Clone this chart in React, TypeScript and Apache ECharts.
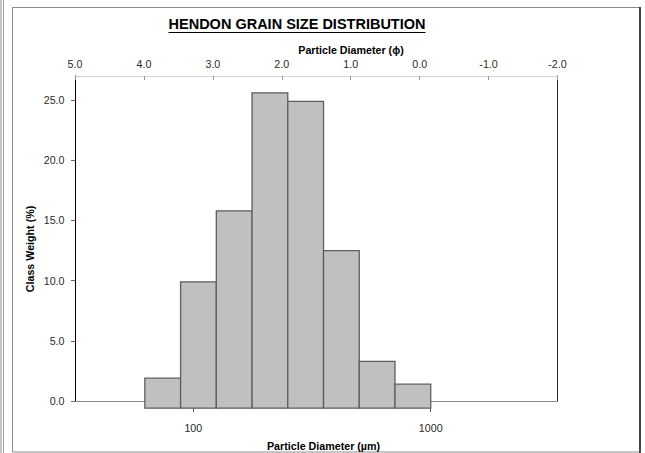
import React, { useEffect, useRef } from "react";
import * as echarts from "echarts";

// Bin edges (µm) – phi classes 4.0 … 0.0 in 0.5 steps
const BIN_EDGES_UM = [62.5, 88.4, 125, 176.8, 250, 353.6, 500, 707.1, 1000];
// Class weight (%) per bin
const CLASS_WEIGHT = [1.9, 9.9, 15.8, 25.6, 24.9, 12.5, 3.3, 1.4];
// Y tick labels
const Y_TICKS = [0, 5, 10, 15, 20, 25];
// Bottom axis labels (µm)
const UM_TICKS = [100, 1000];
// Bars' baseline sits slightly below the 0 line in the original
const BAR_BASE = -0.6;

const FONT = "'Liberation Sans', Arial, Helvetica, sans-serif";
const LABEL_COLOR = "#2a2a2a";

export default function App() {
  const ref = useRef<HTMLDivElement>(null);

  useEffect(() => {
    if (!ref.current) return;
    const chart = echarts.init(ref.current, null, { renderer: "svg" });

    const data = CLASS_WEIGHT.map((v, i) => [
      Math.log10(BIN_EDGES_UM[i]),
      Math.log10(BIN_EDGES_UM[i + 1]),
      v,
    ]);

    const option: any = {
      animation: false,
      backgroundColor: "#ffffff",
      grid: {
        left: 75,
        top: 76,
        width: 482.5,
        height: 325,
        containLabel: false,
        outerBoundsMode: "none",
      },
      xAxis: [
        {
          // top phi axis
          type: "value",
          position: "top",
          min: -2,
          max: 5,
          interval: 1,
          inverse: true,
          axisLine: { show: true, onZero: false, lineStyle: { color: "#d4d4d4", width: 1 } },
          axisTick: { show: true, inside: true, length: 4, lineStyle: { color: "#9a9a9a" } },
          axisLabel: {
            margin: 7,
            fontSize: 10.7,
            fontFamily: FONT,
            color: LABEL_COLOR,
            formatter: (v: number) => v.toFixed(1),
          },
          splitLine: { show: false },
        },
        {
          // bottom log10(µm) axis
          type: "value",
          position: "bottom",
          min: 1.5017,
          max: 3.534,
          offset: 7,
          axisLine: { show: false, onZero: false },
          axisTick: {
            show: true,
            length: 4,
            customValues: UM_TICKS.map((t) => Math.log10(t)),
            lineStyle: { color: "#555" },
          },
          axisLabel: {
            margin: 14,
            fontSize: 10.7,
            fontFamily: FONT,
            color: LABEL_COLOR,
            customValues: UM_TICKS.map((t) => Math.log10(t)),
            formatter: (v: number) => String(Math.round(Math.pow(10, v))),
          },
          splitLine: { show: false },
        },
        {
          // the 0-line
          type: "value",
          position: "bottom",
          min: 0,
          max: 1,
          axisLine: { show: true, onZero: false, lineStyle: { color: "#8a8a8a", width: 1 } },
          axisTick: { show: false },
          axisLabel: { show: false },
          splitLine: { show: false },
        },
      ],
      yAxis: [
        {
          type: "value",
          position: "left",
          min: 0,
          max: 27,
          axisLine: { show: true, onZero: false, lineStyle: { color: "#000", width: 1 } },
          axisTick: {
            show: true,
            length: 4,
            customValues: Y_TICKS,
            lineStyle: { color: "#666" },
          },
          axisLabel: {
            margin: 10.5,
            fontSize: 10.7,
            fontFamily: FONT,
            color: LABEL_COLOR,
            customValues: Y_TICKS,
            formatter: (v: number) => v.toFixed(1),
          },
          splitLine: { show: false },
        },
        {
          type: "value",
          position: "right",
          min: 0,
          max: 27,
          axisLine: { show: true, onZero: false, lineStyle: { color: "#222", width: 1 } },
          axisTick: { show: false },
          axisLabel: { show: false },
          splitLine: { show: false },
        },
      ],
      series: [
        {
          type: "custom",
          xAxisIndex: 1,
          yAxisIndex: 0,
          encode: { x: [0, 1], y: 2 },
          data,
          z: 5,
          renderItem: (params: any, api: any) => {
            const p0 = api.coord([api.value(0), BAR_BASE]);
            const p1 = api.coord([api.value(1), api.value(2)]);
            return {
              type: "rect",
              shape: {
                x: p0[0],
                y: p1[1],
                width: p1[0] - p0[0],
                height: p0[1] - p1[1],
              },
              style: { fill: "#c0c0c0", stroke: "#5e5e5e", lineWidth: 1.3 },
            };
          },
        },
      ],
      graphic: [
        {
          type: "line",
          shape: { x1: 1, y1: 0, x2: 1, y2: 453 },
          style: { stroke: "#8c8c8c", lineWidth: 1 },
        },
        {
          type: "line",
          shape: { x1: 3.5, y1: 0, x2: 3.5, y2: 453 },
          style: { stroke: "#a8a8a8", lineWidth: 1 },
        },
        {
          type: "rect",
          shape: { x: 12.5, y: 7.5, width: 627.5, height: 444.5 },
          style: { fill: "none", stroke: "#8c8c8c", lineWidth: 1 },
        },
        {
          type: "line",
          shape: { x1: 640, y1: 7, x2: 640, y2: 453 },
          style: { stroke: "#1a1a1a", lineWidth: 1.5 },
        },
        {
          type: "text",
          x: 297,
          y: 24,
          style: {
            text: "HENDON GRAIN SIZE DISTRIBUTION",
            fontSize: 14.5,
            fontWeight: "bold",
            fontFamily: FONT,
            fill: "#000",
            textAlign: "center",
            textVerticalAlign: "middle",
          },
        },
        {
          type: "line",
          shape: { x1: 168.5, y1: 32.5, x2: 425.5, y2: 32.5 },
          style: { stroke: "#000", lineWidth: 1 },
        },
        {
          type: "text",
          x: 351,
          y: 50,
          style: {
            text: "Particle Diameter (\u03d5)",
            fontSize: 10.7,
            fontWeight: "bold",
            fontFamily: FONT,
            fill: "#000",
            textAlign: "center",
            textVerticalAlign: "middle",
          },
        },
        {
          type: "text",
          x: 323.5,
          y: 446,
          style: {
            text: "Particle Diameter (\u00b5m)",
            fontSize: 10.7,
            fontWeight: "bold",
            fontFamily: FONT,
            fill: "#000",
            textAlign: "center",
            textVerticalAlign: "middle",
          },
        },
        {
          type: "text",
          x: 30,
          y: 249,
          rotation: Math.PI / 2,
          style: {
            text: "Class Weight (%)",
            fontSize: 10.7,
            fontWeight: "bold",
            fontFamily: FONT,
            fill: "#000",
            textAlign: "center",
            textVerticalAlign: "middle",
          },
        },
      ],
    };

    chart.setOption(option);
    return () => chart.dispose();
  }, []);

  return (
    <div
      ref={ref}
      style={{ position: "fixed", left: 0, top: 0, width: 645, height: 453 }}
    />
  );
}
